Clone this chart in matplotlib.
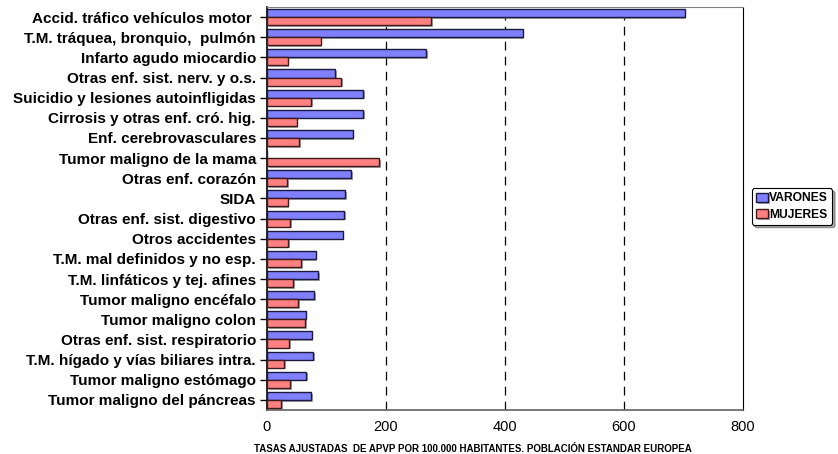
import numpy as np
import matplotlib
matplotlib.use("Agg")
import matplotlib.pyplot as plt
import matplotlib.patheffects as pe

plt.rcParams['font.family'] = ['Liberation Sans', 'DejaVu Sans']

# causas de mortalidad (APVP)
causas = [
    "Accid. tráfico vehículos motor ",
    "T.M. tráquea, bronquio,  pulmón",
    "Infarto agudo miocardio",
    "Otras enf. sist. nerv. y o.s.",
    "Suicidio y lesiones autoinfligidas",
    "Cirrosis y otras enf. cró. hig.",
    "Enf. cerebrovasculares",
    "Tumor maligno de la mama",
    "Otras enf. corazón",
    "SIDA",
    "Otras enf. sist. digestivo",
    "Otros accidentes",
    "T.M. mal definidos y no esp.",
    "T.M. linfáticos y tej. afines",
    "Tumor maligno encéfalo",
    "Tumor maligno colon",
    "Otras enf. sist. respiratorio",
    "T.M. hígado y vías biliares intra.",
    "Tumor maligno estómago",
    "Tumor maligno del páncreas",
]
varones = [702, 430, 267, 115, 162, 162, 144, 0, 141, 131, 130, 127, 82, 86, 79, 65, 75, 78, 66, 74]
mujeres = [276, 90, 35, 125, 74, 50, 54, 189, 34, 35, 39, 36, 58, 44, 52, 64, 37, 29, 39, 24]

xticks = [0, 200, 400, 600, 800]

fig = plt.figure(figsize=(8.38, 4.54), dpi=100)
ax = fig.add_axes([0.3186, 0.0969, 0.568, 0.8877])

y = np.arange(len(causas))
h = 0.4
sombra = [pe.SimplePatchShadow(offset=(1.2, -1.2), shadow_rgbFace='#808080', alpha=0.7), pe.Normal()]

bv = ax.barh(y - h / 2, varones, height=h, color='#8080FF', edgecolor='#1a1a40',
             linewidth=1.0, label='VARONES', zorder=3)
bm = ax.barh(y + h / 2, mujeres, height=h, color='#FF8080', edgecolor='#401a1a',
             linewidth=1.0, label='MUJERES', zorder=3)
for b in list(bv) + list(bm):
    if b.get_width() > 0:
        b.set_path_effects(sombra)

ax.set_xlim(0, 800)
ax.set_ylim(len(causas) - 0.5, -0.5)
ax.set_xticks(xticks)
ax.set_xticklabels([str(t) for t in xticks], fontsize=10.5)
ax.set_yticks(y)
ax.set_yticklabels(causas, fontsize=11, fontweight='bold')
ax.tick_params(axis='x', length=0, pad=7)
ax.tick_params(axis='y', length=5, width=1, pad=3)

for t in xticks[1:-1]:
    ax.axvline(t, color='black', linestyle=(0, (7, 5)), linewidth=0.9, zorder=1)

ax.spines['left'].set_color('black')
ax.spines['left'].set_linewidth(1.2)
ax.spines['right'].set_color('black')
ax.spines['top'].set_color('#808080')
ax.spines['bottom'].set_color('#606060')
ax.spines['bottom'].set_linewidth(1.2)

ax.set_xlabel("TASAS AJUSTADAS  DE APVP POR 100.000 HABITANTES. POBLACIÓN ESTANDAR EUROPEA",
              fontsize=7, fontweight='bold')
ax.xaxis.set_label_coords(0.433, -0.085)

leg = fig.legend(handles=[bv, bm], loc='center left', bbox_to_anchor=(0.897, 0.545),
                 prop={'size': 8.7, 'weight': 'bold'}, frameon=True, fancybox=True,
                 shadow=True, handlelength=1.0, handleheight=0.8, handletextpad=0.1,
                 borderpad=0.35, labelspacing=0.35, borderaxespad=0)
leg.get_frame().set_edgecolor('black')
leg.get_frame().set_linewidth(0.8)

fig.savefig("out.png", dpi=100)
